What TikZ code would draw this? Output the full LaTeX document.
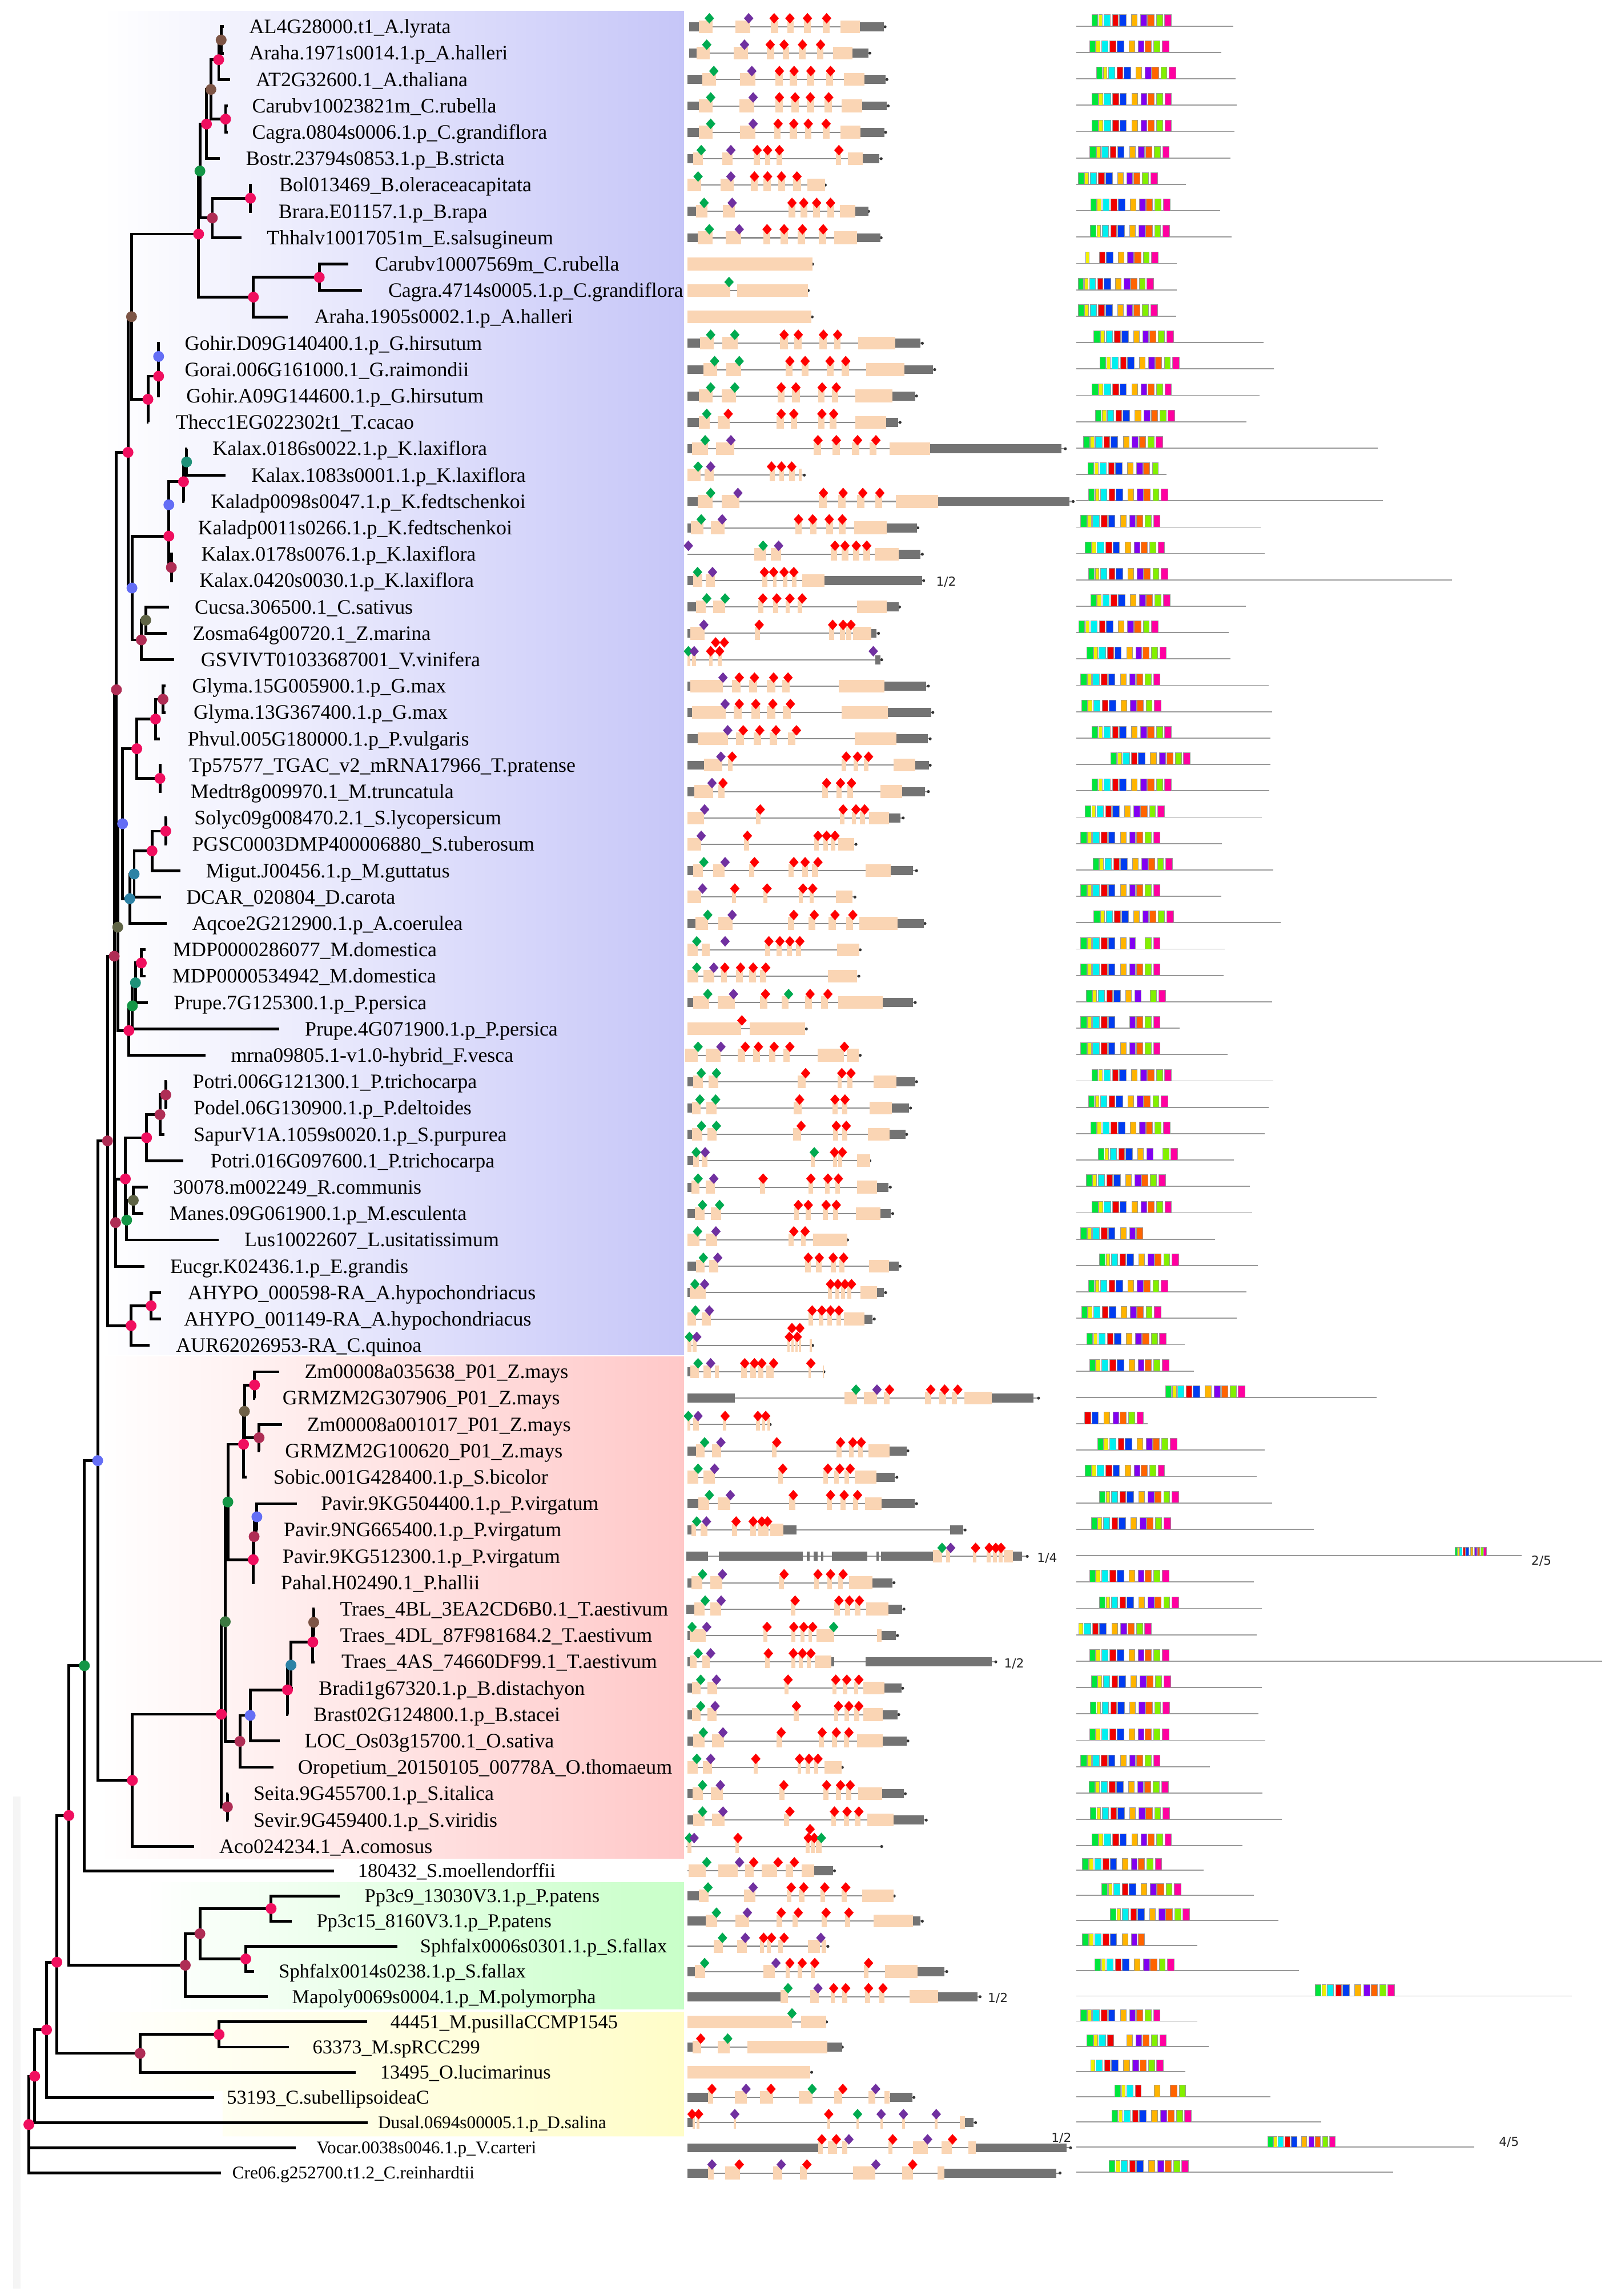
\documentclass[tikz,border=0pt]{standalone}
\usepackage{fontspec}
\setmainfont{Liberation Serif}
\newfontfamily\dvs{DejaVu Sans}
\definecolor{cpink}{RGB}{240,15,95}
\definecolor{cmaroon}{RGB}{175,45,85}
\definecolor{cbrown}{RGB}{125,85,70}
\definecolor{cgreen}{RGB}{20,150,70}
\definecolor{cblue}{RGB}{100,110,245}
\definecolor{colive}{RGB}{95,100,70}
\definecolor{cteal}{RGB}{45,130,165}
\definecolor{ctg}{RGB}{30,145,120}
\definecolor{cdkg}{RGB}{60,120,65}
\definecolor{cob}{RGB}{110,95,70}
\definecolor{bgblue}{RGB}{198,198,248}
\definecolor{bgred}{RGB}{255,200,200}
\definecolor{bggreen}{RGB}{200,255,200}
\definecolor{bgyel}{RGB}{255,253,200}
\definecolor{exonc}{RGB}{250,213,180}
\definecolor{utrc}{RGB}{115,115,115}
\definecolor{dg}{RGB}{0,170,80}
\definecolor{dp}{RGB}{112,48,160}
\definecolor{dr}{RGB}{255,0,0}
\definecolor{mot0}{RGB}{0,230,60}
\definecolor{mot1}{RGB}{240,240,0}
\definecolor{mot2}{RGB}{0,240,240}
\definecolor{mot3}{RGB}{240,0,0}
\definecolor{mot4}{RGB}{0,60,240}
\definecolor{mot5}{RGB}{255,180,0}
\definecolor{mot6}{RGB}{130,0,240}
\definecolor{mot7}{RGB}{255,100,0}
\definecolor{mot8}{RGB}{130,240,0}
\definecolor{mot9}{RGB}{255,0,160}
\tikzset{
 tree/.style={line width=1.9pt,black},
 tdot/.style={circle,fill=#1,draw=none,inner sep=0pt,minimum size=7.4pt},
 lab/.style={inner sep=0pt,anchor=base west,yshift=-4.6pt,font=\fontsize{14}{14}\selectfont},
 labm/.style={inner sep=0pt,anchor=base west,yshift=-4.4pt,font=\fontsize{13.4}{13.4}\selectfont},
 labs/.style={inner sep=0pt,anchor=base west,yshift=-4.0pt,font=\fontsize{12.2}{12.2}\selectfont},
 gline/.style={line width=0.8pt,black!45},
 utr/.style={fill=utrc},
 exon/.style={fill=exonc},
 dline/.style={line width=0.7pt,black!40},
 frac/.style={inner sep=0pt,font=\dvs\fontsize{8.5}{8.5}\selectfont,text=black!85}
}
\newcommand\RowY[1]{\pgfmathsetmacro\yy{ifthenelse(#1<71,18.3+18.01*(#1-1),1277.6+17.2*(#1-71))}}
\newcommand\Leaf[5]{\RowY{#1}\coordinate (t#1) at (#2,\yy); \node[#5] (l#1) at (#3,\yy) {#4};}
% gene row: row, line start, line end, UTR list, exon list, diamond list (zoom units in x)
\newcommand\G[6]{%
 \RowY{#1}%
 \draw[gline] (#2,\yy) -- (#3,\yy);
 \fill[black!80] (#3,\yy) circle (1pt);
 \if\relax\detokenize{#4}\relax\else
  \foreach \ua/\ub in {#4}{\fill[utr] (\ua,\yy-3.1) rectangle (\ub,\yy+3.1);}\fi
 \foreach \ua/\ub in {#5}{\fill[exon] (\ua,\yy-4.4) rectangle (\ub,\yy+4.3);}
 \if\relax\detokenize{#6}\relax\else
  \foreach \dcol/\dpos in {#6}{\fill[\dcol] (\dpos,\yy-9.4) -- ++(18,3.6) -- ++(-18,3.6) -- ++(-18,-3.6) -- cycle;}\fi
}
\newcommand\GR[2]{\RowY{#1}%
 \foreach \dcol/\dpos in {#2}{\fill[\dcol] (\dpos,\yy-15.4) -- ++(18,3.6) -- ++(-18,3.6) -- ++(-18,-3.6) -- cycle;}}
% domain row: row, line end, motif start, scale, motif list
\def\mst{{0,4.6,8.2,14,18.8,27,33.2,38,44,49.6}}
\def\men{{4,7.2,12.6,18,23.4,31,37.4,42.4,48.2,54.2}}
\newcommand\D[5]{%
 \RowY{#1}\pgfmathsetmacro\yd{\yy-0.5}\pgfmathsetmacro\hh{8-4*(1-#4)}%
 \draw[dline] (735,\yd) -- (#2,\yd);
 \foreach \mi in {#5}{%
  \pgfmathsetmacro\ta{\mst[\mi]}\pgfmathsetmacro\tb{\men[\mi]}%
  \filldraw[fill=mot\mi,draw=black!40,line width=0.3pt] ({#3+#4*\ta},\yd-\hh) rectangle ({#3+#4*\tb},\yd);
 }%
}
\begin{document}
\begin{tikzpicture}[x=1pt,y=-1pt]
\fill[white] (0,0) rectangle (1104,1568);
\useasboundingbox (0,0) rectangle (1104,1568);
% backgrounds
\shade[left color=white,right color=bgblue] (70,7.5) rectangle (467,925.5);
\shade[left color=white,right color=bgred] (68,926.5) rectangle (467,1269);
\shade[left color=white,right color=bggreen] (100,1285.5) rectangle (467,1372);
\shade[left color=white,right color=bgyel] (56,1374) -- (467,1374) -- (467,1459) -- (152,1459) -- (152,1428) -- (56,1428) -- cycle;
\fill[black!4] (9,1227) rectangle (14,1563);

% ---------- leaves ----------
\Leaf{1}{153}{170}{AL4G28000.t1\_A.lyrata}{lab}
\Leaf{2}{153}{170}{Araha.1971s0014.1.p\_A.halleri}{lab}
\Leaf{3}{157}{174.5}{AT2G32600.1\_A.thaliana}{lab}
\Leaf{4}{155.5}{172}{Carubv10023821m\_C.rubella}{lab}
\Leaf{5}{155.5}{172}{Cagra.0804s0006.1.p\_C.grandiflora}{lab}
\Leaf{6}{150}{167.8}{Bostr.23794s0853.1.p\_B.stricta}{lab}
\Leaf{7}{172}{190.5}{Bol013469\_B.oleraceacapitata}{lab}
\Leaf{8}{172}{190}{Brara.E01157.1.p\_B.rapa}{lab}
\Leaf{9}{165}{182}{Thhalv10017051m\_E.salsugineum}{lab}
\Leaf{10}{238}{255.8}{Carubv10007569m\_C.rubella}{lab}
\Leaf{11}{247.3}{264.9}{Cagra.4714s0005.1.p\_C.grandiflora}{lab}
\Leaf{12}{196.6}{214.5}{Araha.1905s0002.1.p\_A.halleri}{lab}
\Leaf{13}{109}{126}{Gohir.D09G140400.1.p\_G.hirsutum}{lab}
\Leaf{14}{109}{126}{Gorai.006G161000.1\_G.raimondii}{lab}
\Leaf{15}{109}{127}{Gohir.A09G144600.1.p\_G.hirsutum}{lab}
\Leaf{16}{101.5}{119.8}{Thecc1EG022302t1\_T.cacao}{lab}
\Leaf{17}{127.9}{145}{Kalax.0186s0022.1.p\_K.laxiflora}{lab}
\Leaf{18}{154}{171.4}{Kalax.1083s0001.1.p\_K.laxiflora}{lab}
\Leaf{19}{126}{143.8}{Kaladp0098s0047.1.p\_K.fedtschenkoi}{lab}
\Leaf{20}{116}{135}{Kaladp0011s0266.1.p\_K.fedtschenkoi}{lab}
\Leaf{21}{118}{137.3}{Kalax.0178s0076.1.p\_K.laxiflora}{lab}
\Leaf{22}{118}{136}{Kalax.0420s0030.1.p\_K.laxiflora}{lab}
\Leaf{23}{115.3}{132.8}{Cucsa.306500.1\_C.sativus}{lab}
\Leaf{24}{113.8}{131.3}{Zosma64g00720.1\_Z.marina}{lab}
\Leaf{25}{119}{137}{GSVIVT01033687001\_V.vinifera}{lab}
\Leaf{26}{113}{131}{Glyma.15G005900.1.p\_G.max}{lab}
\Leaf{27}{113}{132}{Glyma.13G367400.1.p\_G.max}{lab}
\Leaf{28}{109}{128}{Phvul.005G180000.1.p\_P.vulgaris}{lab}
\Leaf{29}{110.5}{129}{Tp57577\_TGAC\_v2\_mRNA17966\_T.pratense}{lab}
\Leaf{30}{110.5}{130}{Medtr8g009970.1\_M.truncatula}{lab}
\Leaf{31}{114}{132.5}{Solyc09g008470.2.1\_S.lycopersicum}{lab}
\Leaf{32}{114}{131}{PGSC0003DMP400006880\_S.tuberosum}{lab}
\Leaf{33}{123}{140.5}{Migut.J00456.1.p\_M.guttatus}{lab}
\Leaf{34}{110}{127}{DCAR\_020804\_D.carota}{lab}
\Leaf{35}{114}{131}{Aqcoe2G212900.1.p\_A.coerulea}{lab}
\Leaf{36}{99.5}{118}{MDP0000286077\_M.domestica}{lab}
\Leaf{37}{99.5}{117.5}{MDP0000534942\_M.domestica}{lab}
\Leaf{38}{101}{118.5}{Prupe.7G125300.1.p\_P.persica}{lab}
\Leaf{39}{190.5}{208}{Prupe.4G071900.1.p\_P.persica}{lab}
\Leaf{40}{140.2}{157.5}{mrna09805.1-v1.0-hybrid\_F.vesca}{lab}
\Leaf{41}{114}{131.4}{Potri.006G121300.1\_P.trichocarpa}{lab}
\Leaf{42}{114}{132}{Podel.06G130900.1.p\_P.deltoides}{lab}
\Leaf{43}{112.3}{132}{SapurV1A.1059s0020.1.p\_S.purpurea}{lab}
\Leaf{44}{125.3}{143.5}{Potri.016G097600.1\_P.trichocarpa}{lab}
\Leaf{45}{101}{118}{30078.m002249\_R.communis}{lab}
\Leaf{46}{97.7}{115.5}{Manes.09G061900.1.p\_M.esculenta}{lab}
\Leaf{47}{149.3}{166.7}{Lus10022607\_L.usitatissimum}{lab}
\Leaf{48}{98.6}{116}{Eucgr.K02436.1.p\_E.grandis}{lab}
\Leaf{49}{110}{128}{AHYPO\_000598-RA\_A.hypochondriacus}{lab}
\Leaf{50}{110}{125.5}{AHYPO\_001149-RA\_A.hypochondriacus}{lab}
\Leaf{51}{102}{120}{AUR62026953-RA\_C.quinoa}{lab}
\Leaf{52}{190.5}{207.8}{Zm00008a035638\_P01\_Z.mays}{lab}
\Leaf{53}{174.4}{192.7}{GRMZM2G307906\_P01\_Z.mays}{lab}
\Leaf{54}{192.7}{209.5}{Zm00008a001017\_P01\_Z.mays}{lab}
\Leaf{55}{177}{194.5}{GRMZM2G100620\_P01\_Z.mays}{lab}
\Leaf{56}{168.4}{186.5}{Sobic.001G428400.1.p\_S.bicolor}{lab}
\Leaf{57}{202.7}{219}{Pavir.9KG504400.1.p\_P.virgatum}{lab}
\Leaf{58}{176}{193.6}{Pavir.9NG665400.1.p\_P.virgatum}{lab}
\Leaf{59}{175}{192.7}{Pavir.9KG512300.1.p\_P.virgatum}{lab}
\Leaf{60}{174}{191.7}{Pahal.H02490.1\_P.hallii}{lab}
\Leaf{61}{214.8}{232}{Traes\_4BL\_3EA2CD6B0.1\_T.aestivum}{lab}
\Leaf{62}{214.8}{232}{Traes\_4DL\_87F981684.2\_T.aestivum}{lab}
\Leaf{63}{214.8}{233}{Traes\_4AS\_74660DF99.1\_T.aestivum}{lab}
\Leaf{64}{200}{217.5}{Bradi1g67320.1.p\_B.distachyon}{lab}
\Leaf{65}{196.4}{213.9}{Brast02G124800.1.p\_B.stacei}{lab}
\Leaf{66}{191}{207.8}{LOC\_Os03g15700.1\_O.sativa}{lab}
\Leaf{67}{186.6}{203.3}{Oropetium\_20150105\_00778A\_O.thomaeum}{lab}
\Leaf{68}{156}{172.9}{Seita.9G455700.1.p\_S.italica}{lab}
\Leaf{69}{156}{172.9}{Sevir.9G459400.1.p\_S.viridis}{lab}
\Leaf{70}{132.6}{149.6}{Aco024234.1\_A.comosus}{lab}
\Leaf{71}{228.2}{244.2}{180432\_S.moellendorffii}{labm}
\Leaf{72}{232.1}{248.8}{Pp3c9\_13030V3.1.p\_P.patens}{labm}
\Leaf{73}{199.3}{216}{Pp3c15\_8160V3.1.p\_P.patens}{labm}
\Leaf{74}{271.5}{286.7}{Sphfalx0006s0301.1.p\_S.fallax}{labm}
\Leaf{75}{173.5}{190.2}{Sphfalx0014s0238.1.p\_S.fallax}{labm}
\Leaf{76}{183}{199.3}{Mapoly0069s0004.1.p\_M.polymorpha}{labm}
\Leaf{77}{250.6}{266.4}{44451\_M.pusillaCCMP1545}{labm}
\Leaf{78}{197.2}{213.3}{63373\_M.spRCC299}{labm}
\Leaf{79}{242.7}{259.4}{13495\_O.lucimarinus}{labm}
\Leaf{80}{146.2}{154.7}{53193\_C.subellipsoideaC}{labm}
\Leaf{81}{251.2}{257.9}{Dusal.0694s00005.1.p\_D.salina}{labs}
\Leaf{82}{201.8}{216}{Vocar.0038s0046.1.p\_V.carteri}{labs}
\Leaf{83}{150.8}{158.4}{Cre06.g252700.t1.2\_C.reinhardtii}{labs}

% ---------- internal nodes ----------
\coordinate (n1) at (151,27.31);
\coordinate (n2) at (149.3,40.81);
\coordinate (n3) at (144,61.07);
\coordinate (n4) at (154,81.34);
\coordinate (n5) at (141,84.71);
\coordinate (n6) at (136.5,116.79);
\coordinate (n7) at (171,135.37);
\coordinate (n8) at (145,148.87);
\coordinate (n9) at (135.6,159.85);
\coordinate (n10) at (218,189.4);
\coordinate (n11) at (173,202.9);
\coordinate (n12) at (89.8,216.27);
\coordinate (n13) at (108.3,243.43);
\coordinate (n14) at (108.3,256.93);
\coordinate (n15) at (101,272.69);
\coordinate (n16) at (87.4,308.92);
\coordinate (n17) at (127.4,315.47);
\coordinate (n18) at (125.3,328.97);
\coordinate (n19) at (115.3,344.73);
\coordinate (n20) at (117,387.5);
\coordinate (n21) at (115.3,366.12);
\coordinate (n22) at (99.5,423.52);
\coordinate (n23b) at (96.5,437.03);
\coordinate (n23) at (90.1,401.57);
\coordinate (n24) at (79.5,471.05);
\coordinate (n25) at (111.3,477.55);
\coordinate (n26) at (106.2,491.06);
\coordinate (n27) at (109.2,531.58);
\coordinate (n28) at (93.4,511.32);
\coordinate (n29) at (113.2,567.6);
\coordinate (n30) at (103.8,581.11);
\coordinate (n31) at (91.6,596.87);
\coordinate (n32) at (88.6,613.76);
\coordinate (n32b) at (83.7,562.54);
\coordinate (n33) at (80.4,633.17);
\coordinate (n34) at (96.5,657.65);
\coordinate (n35) at (92.5,671.16);
\coordinate (n36) at (90.4,686.92);
\coordinate (n38) at (88,703.8);
\coordinate (n39) at (78,653);
\coordinate (n40) at (113.2,747.7);
\coordinate (n41) at (109.2,761.21);
\coordinate (n42) at (100.1,776.97);
\coordinate (n43) at (91,819.75);
\coordinate (n43b) at (86.5,833.25);
\coordinate (n44a) at (85.6,805.11);
\coordinate (n44) at (78.9,834.94);
\coordinate (n45) at (103.2,891.79);
\coordinate (n46) at (89.5,905.3);
\coordinate (n47) at (73.4,779.15);
\coordinate (n48) at (66.7,997.5);
\coordinate (m1) at (173.8,945.82);
\coordinate (m2) at (176.9,981.84);
\coordinate (m3) at (166.9,963.83);
\coordinate (m4) at (166.3,986.34);
\coordinate (m5) at (175.4,1035.87);
\coordinate (m6) at (173.5,1049.38);
\coordinate (m7) at (172.9,1065.14);
\coordinate (m8) at (155.6,1025.74);
\coordinate (m9) at (214.2,1107.91);
\coordinate (m10) at (213.6,1121.42);
\coordinate (m11) at (198.7,1137.17);
\coordinate (m12) at (196.3,1154.06);
\coordinate (m13) at (170.8,1171.5);
\coordinate (m14) at (163.8,1189.23);
\coordinate (m15) at (153.8,1107.49);
\coordinate (m16) at (155.3,1233.98);
\coordinate (m17) at (151.1,1170.73);
\coordinate (m18) at (90.4,1215.86);
\coordinate (n49) at (57.6,1137.55);
\coordinate (b1) at (185.1,1303.4);
\coordinate (b2) at (167.8,1337.8);
\coordinate (b3) at (136.5,1320.6);
\coordinate (b4) at (126.5,1342.1);
\coordinate (n50) at (47,1239.83);
\coordinate (p1) at (149.6,1389.4);
\coordinate (p2) at (95.6,1402.3);
\coordinate (n51) at (38.8,1340);
\coordinate (n52) at (31.8,1386.2);
\coordinate (n53) at (23.7,1417.9);
\coordinate (rt) at (19.7,1450.9);

% ---------- branches ----------
\foreach \pa/\ch in {n1/t1,n1/t2,n2/n1,n2/t3,n4/t4,n4/t5,n3/n2,n3/n4,n5/n3,n5/t6,n7/t7,n7/t8,n8/n7,n8/t9,n6/n5,n6/n8,n10/t10,n10/t11,n11/n10,n11/t12,n9/n6,n9/n11,n13/t13,n13/t14,n14/n13,n14/t15,n15/n14,n15/t16,n12/n9,n12/n15,n17/t17,n17/t18,n18/n17,n18/t19,n19/n18,n19/t20,n20/t21,n20/t22,n21/n19,n21/n20,n22/t23,n22/t24,n23b/n22,n23b/t25,n23/n21,n23/n23b,n16/n12,n16/n23,n25/t26,n25/t27,n26/n25,n26/t28,n27/t29,n27/t30,n28/n26,n28/n27,n29/t31,n29/t32,n30/n29,n30/t33,n31/n30,n31/t34,n32/n31,n32/t35,n32b/n28,n32b/n32,n34/t36,n34/t37,n35/n34,n35/t38,n36/n35,n36/t39,n38/n36,n38/t40,n33/n32b,n33/n38,n24/n16,n24/n33,n40/t41,n40/t42,n41/n40,n41/t43,n42/n41,n42/t44,n43/t45,n43/t46,n43b/n43,n43b/t47,n44a/n42,n44a/n43b,n44/n44a,n44/t48,n39/n24,n39/n44,n45/t49,n45/t50,n46/n45,n46/t51,n47/n39,n47/n46,m1/t52,m1/t53,m2/t54,m2/t55,m3/m1,m3/m2,m4/m3,m4/t56,m5/t57,m5/t58,m6/m5,m6/t59,m7/m6,m7/t60,m8/m4,m8/m7,m9/t61,m9/t62,m10/m9,m10/t63,m11/m10,m11/t64,m12/m11,m12/t65,m13/m12,m13/t66,m14/m13,m14/t67,m15/m8,m15/m14,m16/t68,m16/t69,m17/m15,m17/m16,m18/m17,m18/t70,n48/n47,n48/m18,n49/n48,n49/t71,b1/t72,b1/t73,b2/t74,b2/t75,b3/b1,b3/b2,b4/b3,b4/t76,n50/n49,n50/b4,p1/t77,p1/t78,p2/p1,p2/t79,n51/n50,n51/p2,n52/n51,n52/t80,n53/n52,n53/t81,rt/n53,rt/t82,rt/t83}
  {\draw[tree] (\pa) |- (\ch);}

% ---------- node dots ----------
\foreach \nn/\cc in {n1/cbrown,n2/cpink,n3/cbrown,n4/cpink,n5/cpink,n6/cgreen,n7/cpink,n8/cmaroon,n9/cpink,n10/cpink,n11/cpink,n12/cbrown,n13/cblue,n14/cpink,n15/cpink,n16/cpink,n17/ctg,n18/cpink,n19/cblue,n20/cmaroon,n21/cpink,n22/colive,n23b/cmaroon,n23/cblue,n24/cmaroon,n25/cmaroon,n26/cpink,n27/cpink,n28/cpink,n29/cpink,n30/cpink,n31/cteal,n32/cteal,n32b/cblue,n33/colive,n34/cpink,n35/ctg,n36/cgreen,n38/cpink,n39/cmaroon,n40/cmaroon,n41/cmaroon,n42/cpink,n43/colive,n43b/cgreen,n44a/cpink,n44/cmaroon,n45/cpink,n46/cpink,n47/cmaroon,n48/cblue,m1/cpink,m2/cmaroon,m3/cob,m4/cpink,m5/cblue,m6/cmaroon,m7/cpink,m8/cgreen,m9/cbrown,m10/cpink,m11/cteal,m12/cpink,m13/cblue,m14/cmaroon,m15/cdkg,m16/cmaroon,m17/cpink,m18/cpink,n49/cgreen,b1/cpink,b2/cpink,b3/cmaroon,b4/cmaroon,n50/cpink,p1/cpink,p2/cmaroon,n51/cpink,n52/cpink,n53/cpink,rt/cpink}
  {\node[tdot=\cc] (d\nn) at (\nn) {};}

% ---------- gene structures ----------
\begin{scope}[xshift=464.1pt,x=0.1791pt]
\G{1}{35}{783}{35/72,686/778}{72/125,213/270,347/375,410/435,473/500,545/572,612/686}{dg/113,dp/263,dr/360,dr/420,dr/487,dr/560}
\G{2}{35}{725}{35/65,658/720}{65/115,205/260,333/360,393/417,455/480,523/548,585/658}{dg/103,dp/247,dr/345,dr/398,dr/468,dr/537}
\G{3}{30}{790}{30/85,705/785}{85/138,230/288,365/392,420/448,485/512,558/585,627/705}{dg/130,dp/275,dr/380,dr/436,dr/500,dr/575}
\G{4}{30}{795}{30/72,695/790}{72/125,228/285,365/392,425/455,485/512,552/580,618/695}{dg/118,dp/280,dr/380,dr/440,dr/498,dr/568}
\G{5}{30}{785}{30/72,690/780}{72/125,230/288,360/385,420/448,477/502,545/572,612/690}{dg/118,dp/280,dr/375,dr/435,dr/490,dr/558}
\G{6}{30}{768}{30/52,698/760}{52/88,162/202,283/305,325/345,370/390,595/615,642/698}{dg/82,dp/195,dr/295,dr/335,dr/380,dr/607}
\G{7}{30}{555}{}{30/82,155/205,272/298,320/348,375/402,433/462,487/555}{dg/70,dp/195,dr/285,dr/335,dr/388,dr/447}
\G{8}{30}{720}{30/62,670/720}{62/105,165/210,415/440,460/487,508/535,562/588,610/670}{dg/93,dp/200,dr/428,dr/473,dr/522,dr/575}
\G{9}{30}{768}{30/68,675/765}{68/125,175/235,318/345,385/412,450/478,530/558,590/675}{dg/113,dp/227,dr/333,dr/398,dr/468,dr/547}
\G{10}{30}{507}{}{30/507}{}
\G{11}{30}{490}{}{30/192,218/488}{dg/188}
\G{12}{30}{505}{}{30/502}{}
\G{13}{30}{925}{30/78,822/918}{78/130,163/222,383/413,437/465,532/560,588/613,680/822}{dg/118,dg/210,dr/398,dr/452,dr/548,dr/602}
\G{14}{30}{972}{30/90,857/965}{90/143,177/235,403/430,465/490,560/587,617/645,710/857}{dg/133,dg/227,dr/420,dr/478,dr/573,dr/633}
\G{15}{30}{903}{30/72,812/898}{72/125,160/215,373/400,427/458,527/552,580/605,670/812}{dg/118,dg/210,dr/387,dr/443,dr/543,dr/597}
\G{16}{30}{840}{30/72,787/833}{72/115,145/190,370/397,423/448,527/552,572/598,670/787}{dg/103,dr/185,dr/387,dr/435,dr/542,dr/587}
\G{17}{30}{1470}{30/47,955/1455}{47/107,138/207,510/538,583/610,657/685,723/750,800/955}{dg/97,dp/195,dr/527,dr/597,dr/678,dr/748}
\G{18}{30}{475}{}{30/80,95/130,343/362,380/398,418/438,455/465}{dg/70,dp/118,dr/350,dr/388,dr/427}
\G{19}{30}{1500}{30/68,985/1485}{68/125,160/228,530/560,605/632,677/705,745/772,823/985}{dg/118,dp/222,dr/548,dr/623,dr/698,dr/763}
\G{20}{30}{908}{30/42,790/905}{42/90,118/170,440/465,497/522,558/585,607/632,665/790}{dg/82,dp/162,dr/453,dr/507,dr/570,dr/620}
\G{21}{30}{925}{835/918}{285/330,348/387,575/600,618/643,660/685,700/725,743/835}{dp/33,dg/318,dp/377,dr/592,dr/630,dr/673,dr/713}
\G{22}{30}{930}{30/52,552/925}{52/85,100/135,315/335,355/370,393/410,428/445,467/552}{dg/68,dp/125,dr/323,dr/358,dr/398,dr/435}
\G{23}{30}{838}{30/62,790/835}{62/100,128/173,300/320,355/375,403/420,450/468,677/790}{dg/103,dg/173,dr/317,dr/370,dr/420,dr/467}
\G{24}{30}{758}{30/40,730/750}{40/95,287/305,570/590,610/630,635/655,660/730}{dp/92,dr/303,dr/583,dr/623,dr/653}
\G{25}{30}{770}{745/765}{30/40,47/62,112/125,145/160}{dg/33,dp/55,dr/118,dr/152,dp/738}
\GR{25}{dr/137,dr/170}
\G{26}{30}{948}{30/40,780/940}{40/165,200/233,265/295,333/365,390/420,607/780}{dp/165,dr/227,dr/285,dr/358,dr/413}
\G{27}{30}{965}{30/47,793/960}{47/175,205/237,273/305,333/365,393/423,617/793}{dp/173,dr/227,dr/290,dr/355,dr/422}
\G{28}{30}{955}{30/68,827/945}{68/185,215/245,283/310,343/372,413/440,668/827}{dp/183,dr/242,dr/305,dr/367,dr/445}
\G{29}{30}{955}{30/93,898/950}{93/163,185/202,618/635,663/680,703/720,815/898}{dp/157,dr/200,dr/635,dr/678,dr/720}
\G{30}{30}{948}{30/55,847/935}{55/128,148/170,543/565,597/617,640/660,765/847}{dp/123,dr/165,dr/560,dr/613,dr/655}
\G{31}{30}{852}{797/842}{30/92,290/308,610/628,657/672,687/707,722/797}{dp/95,dr/307,dr/623,dr/672,dr/705}
\G{32}{30}{672}{}{30/82,245/265,512/530,548/565,575/593,605/665}{dp/82,dr/258,dr/527,dr/560,dr/592}
\G{33}{30}{903}{30/52,805/890}{52/88,128/170,265/285,415/435,467/488,505/527,708/805}{dg/92,dp/173,dr/285,dr/435,dr/478,dr/527}
\G{34}{30}{668}{}{30/82,200/215,320/335,455/470,495/510,595/658}{dp/87,dr/210,dr/333,dr/470,dr/507}
\G{35}{30}{935}{30/60,830/930}{60/108,148/202,412/437,492/517,568/595,635/660,685/830}{dg/107,dp/200,dr/435,dr/513,dr/592,dr/660}
\G{36}{30}{688}{}{30/68,83/115,325/345,370/388,408/428,443/463,600/685}{dg/65,dp/173,dr/340,dr/382,dr/420,dr/458}
\G{37}{30}{683}{}{30/70,90/132,158/180,215/240,265/290,305/330,565/675}{dg/65,dp/130,dr/172,dr/232,dr/280,dr/328}
\G{38}{30}{898}{30/52,775/890}{52/112,145/210,305/335,388/415,478/505,538/565,605/775}{dg/107,dp/205,dr/327,dg/415,dr/497,dr/565}
\G{39}{30}{483}{}{30/235,267/478}{dr/237}
\G{40}{20}{688}{}{20/68,100/155,222/250,280/305,340/365,395/420,525/625,637/682}{dg/70,dp/157,dr/250,dr/300,dr/360,dr/420,dr/628}
\G{41}{30}{903}{30/52,827/898}{52/88,110/148,450/480,602/618,640/658,740/827}{dg/82,dg/140,dr/480,dr/618,dr/653}
\G{42}{30}{880}{30/47,808/875}{47/80,102/140,435/465,583/603,620/640,723/808}{dg/77,dg/137,dr/457,dr/592,dr/630}
\G{43}{30}{865}{30/47,800/860}{47/85,105/140,433/463,585/605,620/638,718/800}{dg/83,dg/140,dr/463,dr/597,dr/635}
\G{44}{30}{725}{30/52}{52/73,83/105,500/515,585/600,605/620,675/725}{dg/63,dp/97,dg/513,dr/590,dr/620}
\G{45}{30}{803}{30/45,752/795}{45/75,100/135,305/325,490/508,555/572,593/610,677/752}{dg/70,dp/130,dr/318,dr/500,dr/565,dr/605}
\G{46}{30}{812}{30/57,765/805}{57/95,118/158,437/455,480/500,545/565,585/605,672/765}{dg/87,dg/152,dr/452,dr/490,dr/558,dr/597}
\G{47}{30}{640}{}{30/75,100/143,415/435,462/480,508/638}{dg/68,dp/138,dr/435,dr/478}
\G{48}{30}{840}{30/62,798/835}{62/95,113/148,478/500,520/540,575/595,608/628,722/798}{dg/90,dp/145,dr/490,dr/532,dr/585,dr/625}
\G{49}{30}{785}{30/38,752/778}{38/75,75/100,565/580,593/608,615/630,640/655,690/752}{dg/58,dp/95,dr/575,dr/603,dr/630,dr/655}
\G{50}{30}{742}{705/735}{30/62,83/118,490/508,530/548,563/580,597/615,625/705}{dg/60,dp/113,dr/505,dr/542,dr/575,dr/607}
\G{51}{30}{507}{}{30/45,48/65,410/420,425/435,440/450,455/462,495/505}{dg/37,dp/65,dr/418,dr/448}
\GR{51}{dr/428,dr/458}
\G{52}{30}{550}{30/40}{40/72,90/118,135/150,235/255,270/290,300/318,330/358,490/500,545/550}{dg/70,dp/118,dr/248,dr/285,dr/313,dr/358,dr/500}
\G{53}{30}{1368}{30/210,1190/1348}{628/675,702/752,778/800,935/960,990/1015,1037/1058,1085/1190}{dg/672,dp/752,dr/800,dr/957,dr/1010,dr/1060}
\G{54}{30}{345}{}{30/40,52/72,165/178,290/305,315/325,335/345}{dg/33,dp/70,dr/173,dr/298,dr/328}
\G{55}{30}{870}{30/62,800/865}{62/95,122/158,352/368,598/618,645/662,680/697,720/800}{dg/95,dp/157,dr/370,dr/613,dr/660,dr/692}
\G{56}{30}{828}{750/820}{30/70,90/135,375/392,548/565,590/607,628/645,667/750}{dg/70,dp/133,dr/393,dr/565,dr/610,dr/650}
\G{57}{30}{903}{30/70,770/895}{70/113,145/193,418/440,560/580,612/632,660/680,707/770}{dg/113,dp/193,dr/433,dr/575,dr/627,dr/678}
\G{58}{30}{1088}{30/45,395/445,1030/1080}{45/62,80/105,200/218,270/290,300/318,320/338,345/395}{dg/65,dp/102,dr/215,dr/280,dr/313,dr/335}
\G{59}{25}{1325}{25/108,150/470,485/495,510/525,538/548,580/715,750/758,768/965,1270/1305}{965/1000,1015/1030,1118/1132,1170/1185,1195/1210,1215/1230,1235/1270}{dg/1000,dp/1033,dr/1128,dr/1180,dr/1205,dr/1225}
\G{60}{30}{817}{30/45,735/810}{45/85,117/163,378/398,512/530,562/580,605/622,645/735}{dg/87,dp/163,dr/398,dr/527,dr/575,dr/623}
\G{61}{25}{855}{25/55,795/848}{55/95,117/158,423/440,590/610,630/650,668/688,710/795}{dg/97,dp/158,dr/440,dr/607,dr/647,dr/685}
\G{62}{30}{830}{30/38,770/825}{38/70,68/100,318/335,425/440,460/475,490/505,522/588,752/770}{dg/47,dp/103,dr/333,dr/435,dr/473,dr/507,dg/587}
\G{63}{30}{1205}{30/38,578/588,708/1190}{38/65,85/115,325/342,425/440,455/470,485/500,515/578}{dg/70,dp/118,dr/338,dr/433,dr/468,dr/500}
\G{64}{30}{850}{30/47,780/845}{47/80,105/143,400/415,582/598,622/638,665/680,700/780}{dg/80,dp/140,dr/413,dr/595,dr/637,dr/683}
\G{65}{30}{835}{30/47,775/830}{47/80,105/140,435/455,588/605,628/645,665/685,700/775}{dg/80,dp/135,dr/445,dr/605,dr/645,dr/683}
\G{66}{30}{870}{30/52,775/865}{52/95,122/168,368/390,530/550,580/600,625/645,675/775}{dg/90,dp/165,dr/387,dr/543,dr/597,dr/645}
\G{67}{30}{620}{}{30/68,88/122,283/297,450/462,480/497,512/528,552/618}{dg/65,dp/118,dr/290,dr/457,dr/493,dr/527}
\G{68}{30}{860}{30/50,772/855}{50/88,118/165,380/400,548/568,595/615,635/655,680/772}{dg/87,dp/155,dr/397,dr/560,dr/613,dr/650}
\G{69}{30}{940}{30/52,815/930}{52/95,122/170,398/418,578/595,625/645,668/688,715/815}{dg/87,dp/165,dr/420,dr/590,dr/638,dr/683}
\G{70}{25}{770}{}{30/45,213/225,480/495,500/515,520/540}{dg/37,dp/55,dr/222,dr/490,dr/513,dg/540}
\GR{70}{dr/497}
\G{71}{30}{590}{512/585}{33/100,148/222,250/283,313/372,403/433,465/512}{dg/103,dp/228,dr/282,dr/375,dr/437}
\G{72}{30}{818}{30/72}{72/110,245/288,408/425,455/475,537/555,617/637,695/815}{dg/108,dp/280,dr/425,dr/473,dr/553,dr/633}
\G{73}{30}{925}{30/100,890/918}{100/143,213/265,368/390,430/450,540/560,630/650,740/890}{dg/140,dp/258,dr/387,dr/452,dr/558,dr/645}
\G{74}{30}{565}{}{130/165,218/255,305/322,333/348,375/393,488/535,540/558}{dg/163,dp/250,dr/320,dr/350,dr/398,dp/538}
\G{75}{30}{1018}{30/57,907/1008}{57/97,320/362,403/420,450/467,500/515,703/720,783/907}{dg/95,dp/367,dr/420,dr/467,dr/515,dr/720}
\G{76}{30}{1145}{30/385,985/1135}{385/413,497/530,575/592,620/640,707/725,760/780,877/985}{dg/413,dp/527,dr/587,dr/633,dr/720,dr/775}
\G{77}{30}{560}{}{30/428,462/558}{dg/428}
\G{78}{30}{620}{30/50,562/620}{50/82,145/190,258/562}{dr/80,dg/183}
\G{79}{30}{503}{}{30/498}{}
\G{80}{30}{893}{30/108,803/888}{108/128,210/255,305/355,455/507,590/620,720/745,780/800}{dr/123,dp/253,dr/348,dg/505,dr/622,dp/747}
\G{81}{30}{1128}{30/50,1088/1120}{50/58,65/75,205/215,563/573,673/683,765/775,848/858,973/983,1068/1088}{dr/47,dr/72,dp/210,dr/568,dg/678,dp/768,dp/853,dp/978}
\G{82}{30}{1490}{30/528,1128/1475}{528/545,565/600,620/640,795/812,890/945,998/1038,1100/1128}{dr/542,dr/597,dp/645,dr/812,dp/945,dr/1040}
\G{83}{30}{1450}{30/108,1010/1435}{108/130,173/230,355/390,458/485,660/745,847/890,983/1010}{dp/123,dr/227,dp/387,dr/485,dp/748,dr/888}
\end{scope}
\node[frac] (f1) at (646,397.5) {1/2};
\node[frac] (f2) at (715,1064) {1/4};
\node[frac] (f3) at (692.4,1136) {1/2};
\node[frac] (f4) at (681.3,1364.5) {1/2};
\node[frac] (f5) at (724.7,1460) {1/2};

% ---------- conserved motifs ----------
\D{1}{842}{745.5}{1}{0,...,9}
\D{2}{833.7}{743.8}{1}{0,...,9}
\D{3}{843.6}{748.6}{1}{0,...,9}
\D{4}{844.4}{745.7}{1}{0,...,9}
\D{5}{842.7}{745.7}{1}{0,...,9}
\D{6}{840.3}{744.1}{1}{0,...,9}
\D{7}{809.6}{736}{1}{0,...,9}
\D{8}{833.2}{744.6}{1}{0,...,9}
\D{9}{840.8}{744.3}{1}{0,...,9}
\D{10}{803.4}{736.5}{1}{1,3,4,5,6,7,8,9}
\D{11}{803.4}{736}{0.95}{0,...,9}
\D{12}{803}{736}{1}{0,...,9}
\D{13}{862.8}{746.9}{1}{0,...,9}
\D{14}{869.7}{750.9}{1}{0,...,9}
\D{15}{860.2}{745.7}{1}{0,...,9}
\D{16}{851}{747.9}{1}{0,...,9}
\D{17}{940.6}{739.8}{1}{0,...,9}
\D{18}{796.6}{742.7}{1}{0,...,8}
\D{19}{944.4}{743.1}{1}{0,...,9}
\D{20}{860.9}{737.9}{1}{0,...,9}
\D{21}{863.5}{741}{1}{0,...,9}
\D{22}{991.5}{743.1}{1}{0,...,9}
\D{23}{850.5}{744.6}{1}{0,...,9}
\D{24}{838.9}{736.5}{1}{0,...,9}
\D{25}{840.3}{742.2}{1}{0,...,9}
\D{26}{866.4}{737.9}{1}{0,...,9}
\D{27}{868.7}{738.4}{1}{0,...,9}
\D{28}{867.3}{745.5}{1}{0,...,9}
\D{29}{867.3}{758.5}{1}{0,...,9}
\D{30}{866.8}{745.5}{1}{0,...,9}
\D{31}{861.6}{740.8}{1}{0,...,9}
\D{32}{834.2}{737.9}{1}{0,...,9}
\D{33}{869.2}{746.2}{1}{0,...,9}
\D{34}{833.7}{737.9}{1}{0,...,9}
\D{35}{874.6}{746.9}{1}{0,...,9}
\D{36}{836.1}{737.9}{1}{0,1,2,3,4,5,6,8,9}
\D{37}{835.6}{737.9}{1}{0,...,9}
\D{38}{868.7}{741.5}{1}{0,1,2,3,4,5,6,8,9}
\D{39}{805.3}{737.9}{1}{0,1,2,3,4,6,7,8,9}
\D{40}{838}{737.9}{1}{0,...,9}
\D{41}{869.2}{745.5}{1}{0,...,9}
\D{42}{866.1}{743.1}{1}{0,...,9}
\D{43}{863.7}{744.6}{1}{0,...,9}
\D{44}{842.5}{749.8}{1}{0,1,2,3,4,5,6,8,9}
\D{45}{853.3}{741.5}{1}{0,...,9}
\D{46}{855}{745.7}{1}{0,...,9}
\D{47}{829.5}{737.9}{1}{0,...,7}
\D{48}{859}{750.5}{1}{0,...,9}
\D{49}{851}{743.1}{1}{0,...,9}
\D{50}{844.4}{738.4}{1}{0,...,9}
\D{51}{808.9}{742}{1}{0,...,9}
\D{52}{815.3}{743.8}{1}{0,...,9}
\D{53}{940.1}{795.9}{1}{0,...,9}
\D{54}{783.6}{726.6}{1}{3,...,9}
\D{55}{863.7}{749.3}{1}{0,...,9}
\D{56}{858.1}{741}{1}{0,...,9}
\D{57}{868.5}{750.5}{1}{0,...,9}
\D{58}{897.1}{745}{1}{0,...,9}
\D{59}{1039}{993.3}{0.4}{0,...,9}
\D{60}{856.2}{743.8}{1}{0,...,9}
\D{61}{861.4}{750.5}{1}{0,...,9}
\D{62}{858.1}{732}{1}{1,...,9}
\D{63}{1093.9}{743.8}{1}{0,...,9}
\D{64}{861.6}{745}{1}{0,...,9}
\D{65}{859.3}{744.3}{1}{0,...,9}
\D{66}{864}{743.8}{1}{0,...,9}
\D{67}{825.9}{737.9}{1}{0,...,9}
\D{68}{862.1}{743.4}{1}{0,...,9}
\D{69}{875.1}{744.3}{1}{0,...,9}
\D{70}{848.4}{745.7}{1}{0,...,9}
\D{71}{821.9}{739.1}{1}{0,...,9}
\D{72}{856.2}{752.1}{1}{0,...,9}
\D{73}{872.7}{758}{1}{0,...,9}
\D{74}{817.6}{739.1}{1}{0,...,7}
\D{75}{886.9}{747.4}{1}{0,...,9}
\D{76}{1073.3}{898}{1}{0,...,9}
\D{77}{817.6}{737.9}{1}{0,...,9}
\D{78}{825.4}{742.2}{1}{0,1,2,3,5,6,7,8,9}
\D{79}{809.4}{740.1}{1}{1,...,9}
\D{80}{867.3}{761.1}{1}{0,1,2,3,5,7,8}
\D{81}{902.3}{759.2}{1}{0,...,9}
\D{82}{1006.4}{865.6}{0.85}{0,...,9}
\D{83}{951.3}{757.3}{1}{0,...,9}
\node[frac] (f6) at (1052.4,1066) {2/5};
\node[frac] (f7) at (1030.3,1463) {4/5};
\end{tikzpicture}
\end{document}
